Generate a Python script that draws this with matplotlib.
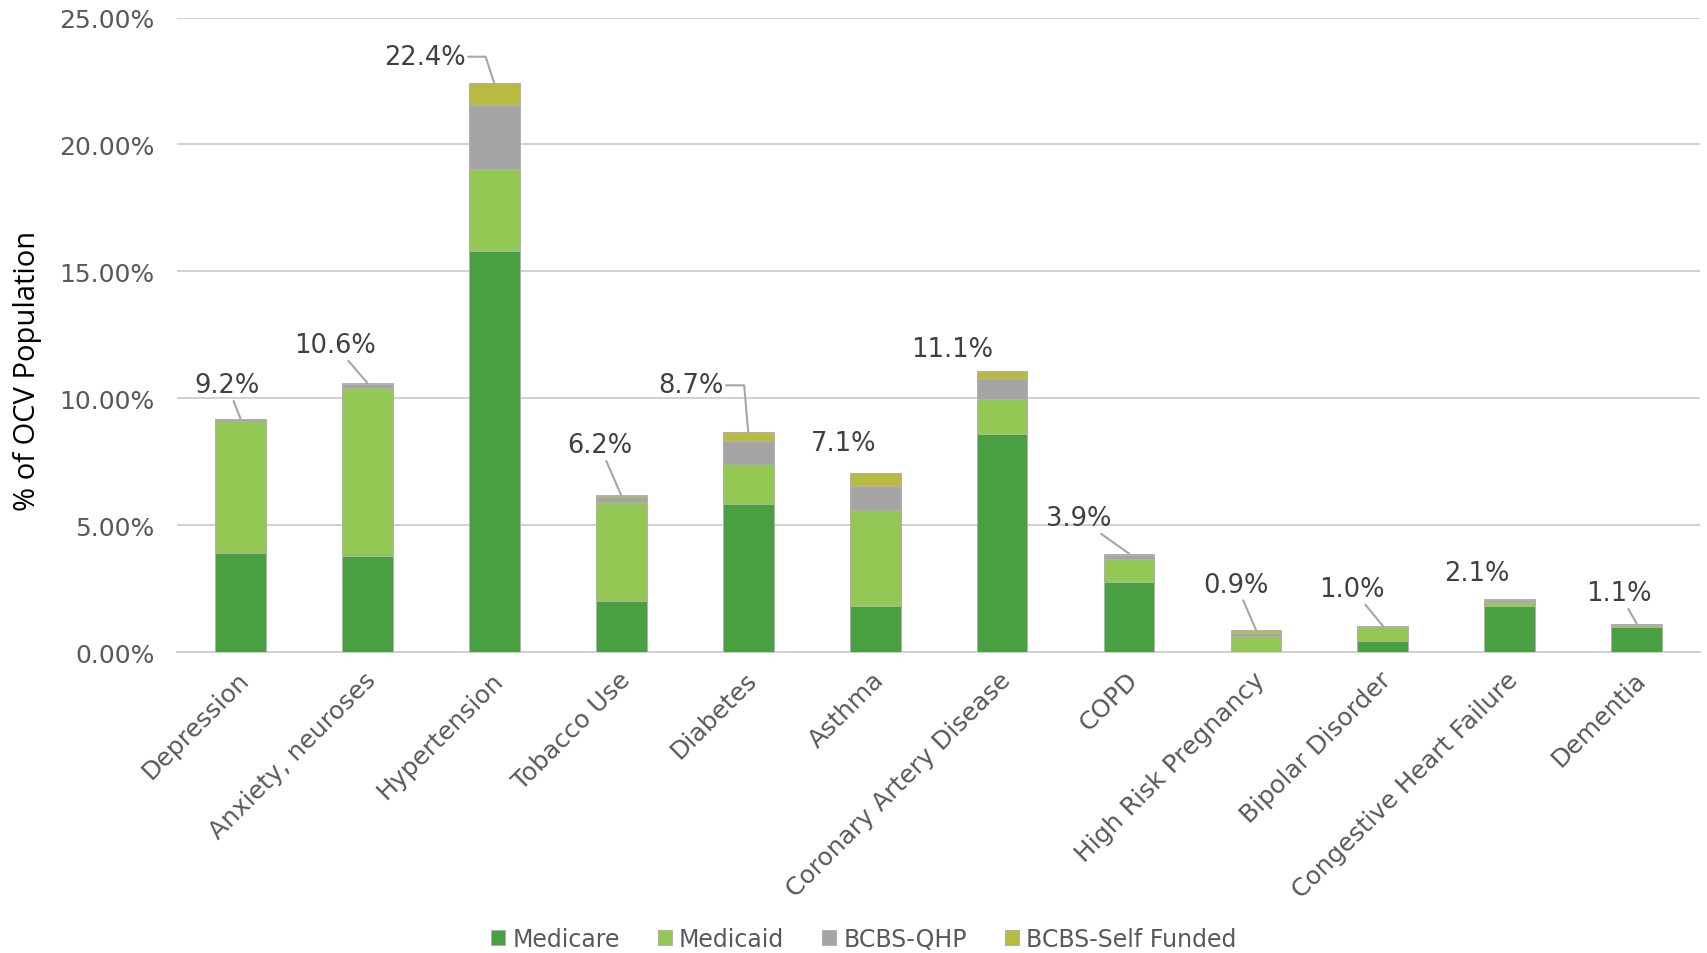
import numpy as np
import matplotlib
matplotlib.use('Agg')
import matplotlib.pyplot as plt
from matplotlib.transforms import ScaledTranslation

# Data #
conditions = ['Depression', 'Anxiety, neuroses', 'Hypertension', 'Tobacco Use', 'Diabetes', 'Asthma',
              'Coronary Artery Disease', 'COPD', 'High Risk Pregnancy', 'Bipolar Disorder',
              'Congestive Heart Failure', 'Dementia']
medicare = [3.90, 3.80, 15.80, 2.00, 5.85, 1.80, 8.60, 2.75, 0.02, 0.42, 1.80, 1.00]
medicaid = [5.20, 6.60, 3.25, 3.90, 1.55, 3.80, 1.35, 0.90, 0.62, 0.58, 0.18, 0.08]
bcbs_qhp = [0.08, 0.15, 2.50, 0.22, 0.90, 0.95, 0.80, 0.18, 0.10, 0.02, 0.06, 0.02]
bcbs_self = [0.02, 0.05, 0.85, 0.05, 0.38, 0.52, 0.32, 0.05, 0.14, 0.01, 0.04, 0.02]
series_names = ['Medicare', 'Medicaid', 'BCBS-QHP', 'BCBS-Self Funded']
y_ticks = [0, 5, 10, 15, 20, 25]

# Label placement (offset in points from bar top) and leader type #
label_offsets = [(-9.4, 23.9), (-23.5, 27.3), (-50.2, 19.3), (-15.7, 36.1), (-41.5, 33.4), (-22.7, 21.2),
                 (-36.1, 15.6), (-36.1, 25.5), (-14.1, 32.5), (-22.0, 26.6), (-23.5, 19.2), (-12.5, 21.9)]
leaders = ['line', 'line', ('elbow', 108), 'line', ('elbow', 95), None,
           None, 'line', 'line', 'line', None, 'line']

colors = ['#48A040', '#92C853', '#A5A5A5', '#B8BB3F']
text_color = '#404040'
tick_color = '#595959'
grid_color = '#D0D0D0'

# Figure #
fig = plt.figure(figsize=(17.07, 9.54), dpi=100)
ax = fig.add_axes([0.1037, 0.3155, 0.8923, 0.6651])

x = np.arange(len(conditions))
bottom = np.zeros(len(conditions))
for vals, col, name in zip([medicare, medicaid, bcbs_qhp, bcbs_self], colors, series_names):
    ax.bar(x, vals, 0.4, bottom=bottom, color=col, edgecolor='#B0B0B0', linewidth=0.7,
           label=name, zorder=3)
    bottom = bottom + np.array(vals)
totals = bottom

# Axes style #
ax.set_xlim(-0.5, len(conditions) - 0.5)
ax.set_ylim(0, 25)
ax.set_yticks(y_ticks)
ax.set_yticklabels(['%.2f%%' % v for v in y_ticks], fontsize=18, color=tick_color)
ax.yaxis.grid(True, color=grid_color, linewidth=1.4, zorder=0)
ax.tick_params(axis='y', length=0, pad=16)
ax.tick_params(axis='x', length=0, pad=17)
for s in ['top', 'right', 'left']:
    ax.spines[s].set_visible(False)
ax.spines['bottom'].set_color(grid_color)
ax.spines['bottom'].set_linewidth(1.4)
ax.set_xticks(x)
ax.set_xticklabels(conditions, rotation=45, ha='right', va='center', rotation_mode='anchor',
                   fontsize=18, color=tick_color)
for lab in ax.get_xticklabels():
    lab.set_transform(lab.get_transform() + ScaledTranslation(5/100, 0, fig.dpi_scale_trans))
ax.set_ylabel('% of OCV Population', fontsize=21, family='Open Sans', color='black')
ax.yaxis.set_label_coords(-0.0885, 0.444)

# Data labels #
for i, tot in enumerate(totals):
    dx, dy = label_offsets[i]
    kw = dict(xy=(i, tot), xytext=(dx, dy), textcoords='offset points', ha='center', va='center',
              fontsize=18.5, color=text_color, zorder=5)
    lead = leaders[i]
    if lead == 'line':
        kw['arrowprops'] = dict(arrowstyle='-', color='#A6A6A6', lw=1.5, shrinkA=0, shrinkB=0)
    elif lead is not None:
        kw['arrowprops'] = dict(arrowstyle='-', color='#A6A6A6', lw=1.5, shrinkA=0, shrinkB=0,
                                relpos=(1, 0.5), connectionstyle='angle,angleA=0,angleB=%d,rad=0' % lead[1])
    ax.annotate('%.1f%%' % tot, **kw)

# Legend #
fig.legend(loc='center', bbox_to_anchor=(0.506, 0.015), ncol=4, frameon=False, fontsize=17,
           handlelength=0.6, handleheight=0.6, handletextpad=0.3, columnspacing=1.6,
           labelcolor=tick_color)

fig.savefig('out.png', dpi=100)
